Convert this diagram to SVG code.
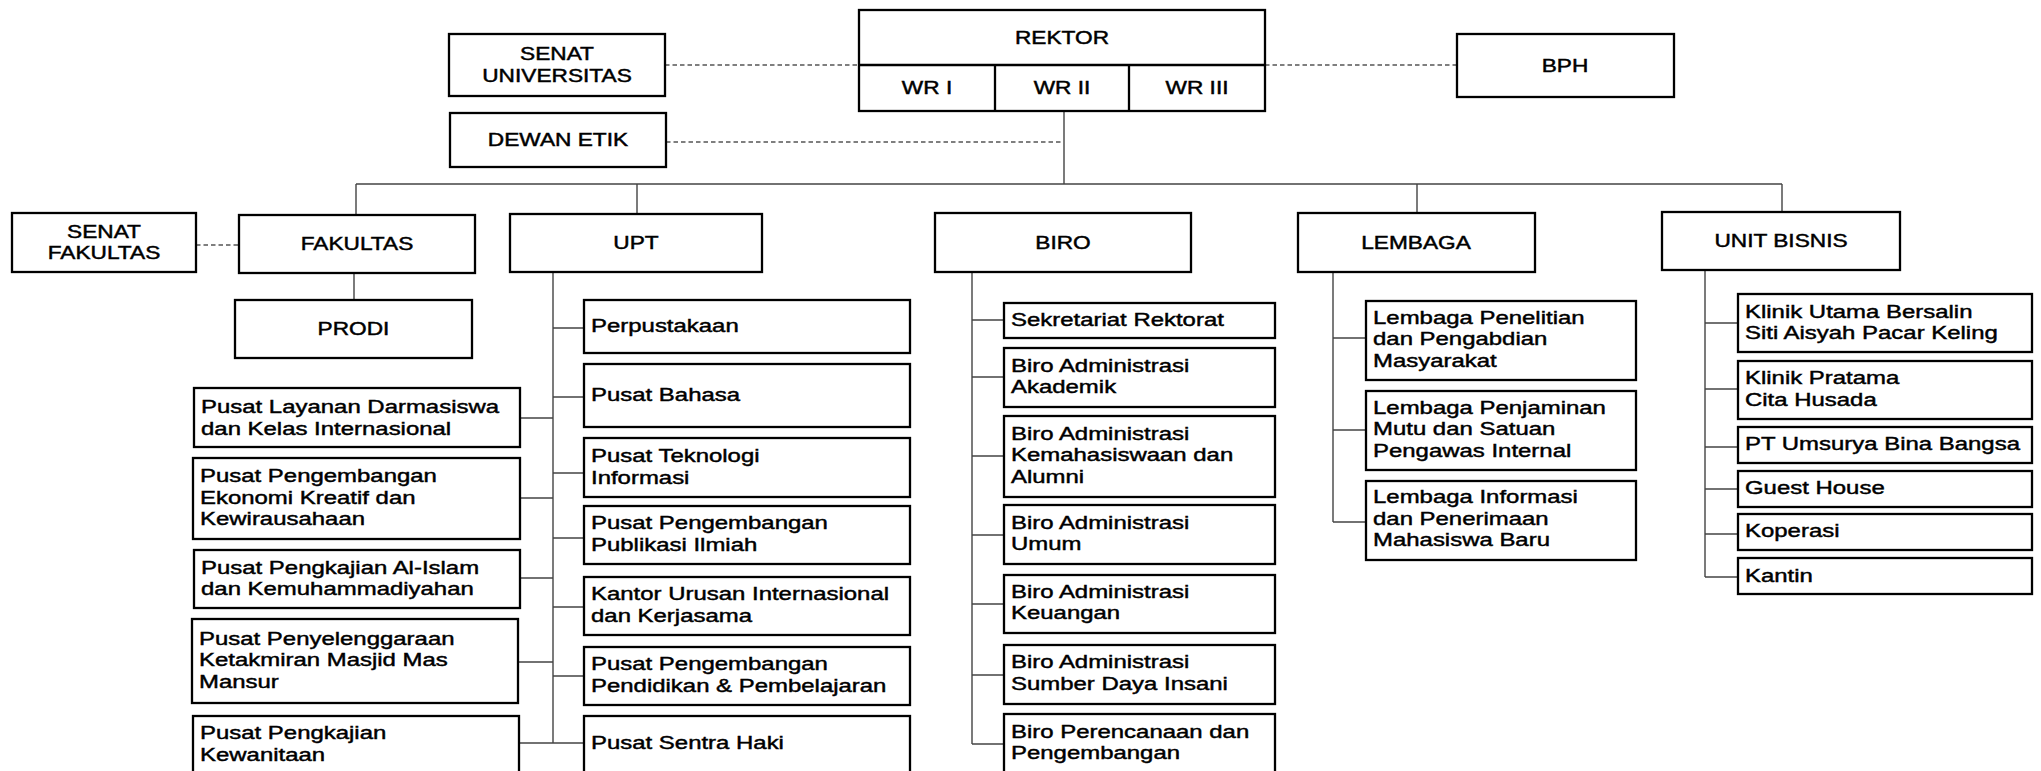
<svg xmlns="http://www.w3.org/2000/svg" width="2041" height="771" viewBox="0 0 2041 771">
<style>
.b{fill:#fff;stroke:#000;stroke-width:2.3}
.h{font-family:"Liberation Sans",Arial,sans-serif;font-size:18px;fill:#000;stroke:#000;stroke-width:0.45;text-anchor:middle}
.c{font-family:"Liberation Sans",Arial,sans-serif;font-size:19px;fill:#000;stroke:#000;stroke-width:0.45}
.ln{fill:none;stroke:#444;stroke-width:1.4}
.ds{fill:none;stroke:#555;stroke-width:1.4;stroke-dasharray:4.5 3}
</style>
<rect width="2041" height="771" fill="#fff"/>
<g id="connectors">
<path class="ds" d="M665 65H859M1265 65H1457M666 142H1063M196 245H239"/>
<path class="ln" d="M1064 111V184M356 184H1782M356 184V215M637 184V214M1417 184V213M1782 184V212"/>
<path class="ln" d="M354 273V300"/>
<path class="ln" d="M553 272V743M520 418H553M520 498H553M520 578H553M518 662H553M519 743H553M553 328H584M553 397H584M553 473H584M553 538H584M553 607H584M553 676H584M553 743H584"/>
<path class="ln" d="M972 272V744M972 320H1004M972 377H1004M972 456H1004M972 535H1004M972 604H1004M972 675H1004M972 744H1004"/>
<path class="ln" d="M1333 272V522M1333 338H1366M1333 430H1366M1333 522H1366"/>
<path class="ln" d="M1705 270V577M1705 323H1738M1705 389H1738M1705 447H1738M1705 489H1738M1705 534H1738M1705 577H1738"/>
</g>
<g id="senat-universitas"><rect class="b" x="449" y="34" width="216" height="62"/><text class="h" transform="translate(557,60) scale(1.26,1)"><tspan x="0">SENAT</tspan><tspan x="0" dy="21.7">UNIVERSITAS</tspan></text></g>
<g id="rektor"><rect class="b" x="859" y="10" width="406" height="101"/><path class="b" d="M859 65H1265M995 65V111M1129 65V111"/><text class="h" transform="translate(1062,44) scale(1.26,1)">REKTOR</text><text class="h" transform="translate(927,94) scale(1.26,1)">WR I</text><text class="h" transform="translate(1062,94) scale(1.26,1)">WR II</text><text class="h" transform="translate(1197,94) scale(1.26,1)">WR III</text></g>
<g id="bph"><rect class="b" x="1457" y="34" width="217" height="63"/><text class="h" transform="translate(1565,71.5) scale(1.26,1)">BPH</text></g>
<g id="dewan-etik"><rect class="b" x="450" y="113" width="216" height="54"/><text class="h" transform="translate(558,146) scale(1.26,1)">DEWAN ETIK</text></g>
<g id="senat-fakultas"><rect class="b" x="12" y="213" width="184" height="59"/><text class="h" transform="translate(104,237.5) scale(1.26,1)"><tspan x="0">SENAT</tspan><tspan x="0" dy="21.7">FAKULTAS</tspan></text></g>
<g id="fakultas"><rect class="b" x="239" y="215" width="236" height="58"/><text class="h" transform="translate(357,250) scale(1.26,1)">FAKULTAS</text></g>
<g id="upt"><rect class="b" x="510" y="214" width="252" height="58"/><text class="h" transform="translate(636,249) scale(1.26,1)">UPT</text></g>
<g id="biro"><rect class="b" x="935" y="213" width="256" height="59"/><text class="h" transform="translate(1063,248.5) scale(1.26,1)">BIRO</text></g>
<g id="lembaga"><rect class="b" x="1298" y="213" width="237" height="59"/><text class="h" transform="translate(1416,248.5) scale(1.26,1)">LEMBAGA</text></g>
<g id="unit-bisnis"><rect class="b" x="1662" y="212" width="238" height="58"/><text class="h" transform="translate(1781,247) scale(1.26,1)">UNIT BISNIS</text></g>
<g id="prodi"><rect class="b" x="235" y="300" width="237" height="58"/><text class="h" transform="translate(353.5,335) scale(1.26,1)">PRODI</text></g>
<g id="upt-l1"><rect class="b" x="194" y="388" width="326" height="59"/><text class="c" transform="translate(201,413) scale(1.26,1)"><tspan x="0">Pusat Layanan Darmasiswa</tspan><tspan x="0" dy="21.7">dan Kelas Internasional</tspan></text></g>
<g id="upt-l2"><rect class="b" x="193" y="458" width="327" height="81"/><text class="c" transform="translate(200,482) scale(1.26,1)"><tspan x="0">Pusat Pengembangan</tspan><tspan x="0" dy="21.7">Ekonomi Kreatif dan</tspan><tspan x="0" dy="21.7">Kewirausahaan</tspan></text></g>
<g id="upt-l3"><rect class="b" x="194" y="550" width="326" height="58"/><text class="c" transform="translate(201,573.5) scale(1.26,1)"><tspan x="0">Pusat Pengkajian Al-Islam</tspan><tspan x="0" dy="21.7">dan Kemuhammadiyahan</tspan></text></g>
<g id="upt-l4"><rect class="b" x="192" y="619" width="326" height="84"/><text class="c" transform="translate(199,644.5) scale(1.26,1)"><tspan x="0">Pusat Penyelenggaraan</tspan><tspan x="0" dy="21.7">Ketakmiran Masjid Mas</tspan><tspan x="0" dy="21.7">Mansur</tspan></text></g>
<g id="upt-l5"><rect class="b" x="193" y="716" width="326" height="60"/><text class="c" transform="translate(200,739) scale(1.26,1)"><tspan x="0">Pusat Pengkajian</tspan><tspan x="0" dy="21.7">Kewanitaan</tspan></text></g>
<g id="upt-r1"><rect class="b" x="584" y="300" width="326" height="53"/><text class="c" transform="translate(591,332) scale(1.26,1)">Perpustakaan</text></g>
<g id="upt-r2"><rect class="b" x="584" y="364" width="326" height="63"/><text class="c" transform="translate(591,401) scale(1.26,1)">Pusat Bahasa</text></g>
<g id="upt-r3"><rect class="b" x="584" y="438" width="326" height="59"/><text class="c" transform="translate(591,462) scale(1.26,1)"><tspan x="0">Pusat Teknologi</tspan><tspan x="0" dy="21.7">Informasi</tspan></text></g>
<g id="upt-r4"><rect class="b" x="584" y="506" width="326" height="58"/><text class="c" transform="translate(591,529) scale(1.26,1)"><tspan x="0">Pusat Pengembangan</tspan><tspan x="0" dy="21.7">Publikasi Ilmiah</tspan></text></g>
<g id="upt-r5"><rect class="b" x="584" y="577" width="326" height="58"/><text class="c" transform="translate(591,600) scale(1.26,1)"><tspan x="0">Kantor Urusan Internasional</tspan><tspan x="0" dy="21.7">dan Kerjasama</tspan></text></g>
<g id="upt-r6"><rect class="b" x="584" y="647" width="326" height="58"/><text class="c" transform="translate(591,670) scale(1.26,1)"><tspan x="0">Pusat Pengembangan</tspan><tspan x="0" dy="21.7">Pendidikan &amp; Pembelajaran</tspan></text></g>
<g id="upt-r7"><rect class="b" x="584" y="716" width="326" height="60"/><text class="c" transform="translate(591,749) scale(1.26,1)">Pusat Sentra Haki</text></g>
<g id="biro-1"><rect class="b" x="1004" y="303" width="271" height="35"/><text class="c" transform="translate(1011,326) scale(1.26,1)">Sekretariat Rektorat</text></g>
<g id="biro-2"><rect class="b" x="1004" y="348" width="271" height="59"/><text class="c" transform="translate(1011,371.7) scale(1.26,1)"><tspan x="0">Biro Administrasi</tspan><tspan x="0" dy="21.7">Akademik</tspan></text></g>
<g id="biro-3"><rect class="b" x="1004" y="416" width="271" height="81"/><text class="c" transform="translate(1011,439.5) scale(1.26,1)"><tspan x="0">Biro Administrasi</tspan><tspan x="0" dy="21.7">Kemahasiswaan dan</tspan><tspan x="0" dy="21.7">Alumni</tspan></text></g>
<g id="biro-4"><rect class="b" x="1004" y="505" width="271" height="59"/><text class="c" transform="translate(1011,528.5) scale(1.26,1)"><tspan x="0">Biro Administrasi</tspan><tspan x="0" dy="21.7">Umum</tspan></text></g>
<g id="biro-5"><rect class="b" x="1004" y="575" width="271" height="58"/><text class="c" transform="translate(1011,597.5) scale(1.26,1)"><tspan x="0">Biro Administrasi</tspan><tspan x="0" dy="21.7">Keuangan</tspan></text></g>
<g id="biro-6"><rect class="b" x="1004" y="645" width="271" height="59"/><text class="c" transform="translate(1011,668) scale(1.26,1)"><tspan x="0">Biro Administrasi</tspan><tspan x="0" dy="21.7">Sumber Daya Insani</tspan></text></g>
<g id="biro-7"><rect class="b" x="1004" y="714" width="271" height="62"/><text class="c" transform="translate(1011,737.5) scale(1.26,1)"><tspan x="0">Biro Perencanaan dan</tspan><tspan x="0" dy="21.7">Pengembangan</tspan></text></g>
<g id="lembaga-1"><rect class="b" x="1366" y="301" width="270" height="79"/><text class="c" transform="translate(1373,323.5) scale(1.26,1)"><tspan x="0">Lembaga Penelitian</tspan><tspan x="0" dy="21.7">dan Pengabdian</tspan><tspan x="0" dy="21.7">Masyarakat</tspan></text></g>
<g id="lembaga-2"><rect class="b" x="1366" y="391" width="270" height="79"/><text class="c" transform="translate(1373,413.5) scale(1.26,1)"><tspan x="0">Lembaga Penjaminan</tspan><tspan x="0" dy="21.7">Mutu dan Satuan</tspan><tspan x="0" dy="21.7">Pengawas Internal</tspan></text></g>
<g id="lembaga-3"><rect class="b" x="1366" y="481" width="270" height="79"/><text class="c" transform="translate(1373,503) scale(1.26,1)"><tspan x="0">Lembaga Informasi</tspan><tspan x="0" dy="21.7">dan Penerimaan</tspan><tspan x="0" dy="21.7">Mahasiswa Baru</tspan></text></g>
<g id="unit-1"><rect class="b" x="1738" y="294" width="294" height="58"/><text class="c" transform="translate(1745,317.5) scale(1.26,1)"><tspan x="0">Klinik Utama Bersalin</tspan><tspan x="0" dy="21.7">Siti Aisyah Pacar Keling</tspan></text></g>
<g id="unit-2"><rect class="b" x="1738" y="361" width="294" height="58"/><text class="c" transform="translate(1745,384) scale(1.26,1)"><tspan x="0">Klinik Pratama</tspan><tspan x="0" dy="21.7">Cita Husada</tspan></text></g>
<g id="unit-3"><rect class="b" x="1738" y="427" width="294" height="36"/><text class="c" transform="translate(1745,450) scale(1.26,1)">PT Umsurya Bina Bangsa</text></g>
<g id="unit-4"><rect class="b" x="1738" y="471" width="294" height="36"/><text class="c" transform="translate(1745,493.5) scale(1.26,1)">Guest House</text></g>
<g id="unit-5"><rect class="b" x="1738" y="514" width="294" height="36"/><text class="c" transform="translate(1745,536.5) scale(1.26,1)">Koperasi</text></g>
<g id="unit-6"><rect class="b" x="1738" y="558" width="294" height="36"/><text class="c" transform="translate(1745,581.5) scale(1.26,1)">Kantin</text></g>
</svg>
